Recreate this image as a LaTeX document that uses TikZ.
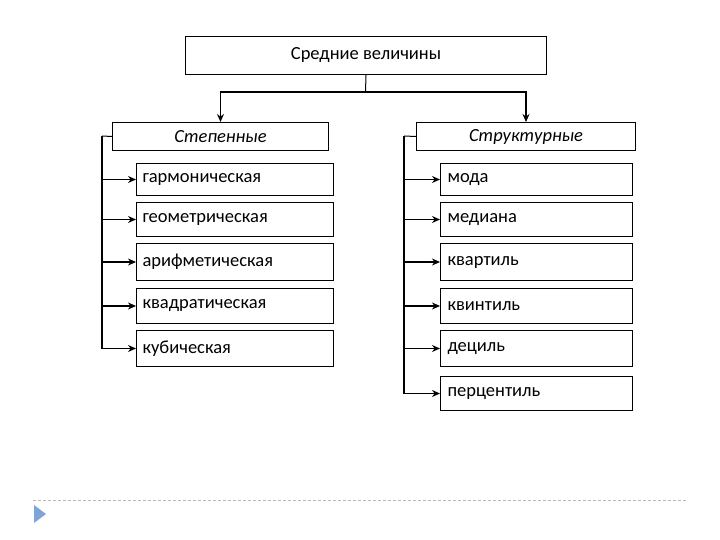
\documentclass[tikz,border=0pt]{standalone}
\usepackage{fontspec}
\setmainfont{Carlito}
\usetikzlibrary{arrows.meta, positioning}
\tikzset{>={Stealth[length=8pt,width=7pt]}}
\definecolor{slideblue}{RGB}{125,165,215}

\begin{document}
\begin{tikzpicture}[x=1pt, y=-1pt,
        box/.style={draw, line width=1pt, anchor=north west, inner xsep=0pt,
                    font=\fontsize{18.5}{22}\selectfont},
        headbox/.style={box, align=center, font=\fontsize{18.5}{22}\selectfont\itshape},
        leftbox/.style={box, text width=185pt, align=left, inner xsep=6pt},
        rightbox/.style={box, text width=178pt, align=left, inner xsep=7pt},
        link/.style={line width=1.7pt}]
        \useasboundingbox (0,0) rectangle (720,540);

        % top
        \node[box, minimum width=361pt, minimum height=38pt, align=center] (top) at (185,36) {Средние величины};
        \node[headbox, minimum width=216pt, minimum height=28pt] (st) at (112,122) {Степенные};
        \node[headbox, minimum width=219pt, minimum height=28pt] (sr) at (416,122) {Структурные};

        \coordinate (hub) at (365.5,92);
        \draw [line width=1pt] (top.south) -- (hub);
        \draw [->, link] (hub) -| (st.north);
        \draw [->, link] (hub) -| (sr.north);

        % left column
        \node[leftbox, minimum height=32pt] (g1) at (136,163) {гармоническая};
        \node[leftbox, minimum height=34pt] (g2) at (136,202) {геометрическая};
        \node[leftbox, minimum height=37pt] (g3) at (136,243) {арифметическая};
        \node[leftbox, minimum height=35pt] (g4) at (136,288) {квадратическая};
        \node[leftbox, minimum height=36pt] (g5) at (136,330) {кубическая};

        \coordinate (ls) at (102,136);
        \draw [line width=1pt] (st.west) -- (ls);
        \draw [link] (ls) -- (ls |- g5.west);
        \draw [->, link] (ls |- g1.west) -- (g1.west);
        \draw [->, link] (ls |- g2.west) -- (g2.west);
        \draw [->, line width=1.1pt] (ls |- g3.west) -- (g3.west);
        \draw [->, link] (ls |- g4.west) -- (g4.west);
        \draw [->, link] (ls |- g5.west) -- (g5.west);

        % right column
        \node[rightbox, minimum height=32pt] (r1) at (440,163) {мода};
        \node[rightbox, minimum height=34pt] (r2) at (440,202) {медиана};
        \node[rightbox, minimum height=37pt] (r3) at (440,243) {квартиль};
        \node[rightbox, minimum height=35pt] (r4) at (440,288) {квинтиль};
        \node[rightbox, minimum height=36pt] (r5) at (440,330) {дециль};
        \node[rightbox, minimum height=34pt] (r6) at (440,376) {перцентиль};

        \coordinate (rs) at (404,136);
        \draw [line width=1pt] (sr.west) -- (rs);
        \draw [link] (rs) -- (rs |- r6.west);
        \draw [->, line width=1.1pt] (rs |- r1.west) -- (r1.west);
        \draw [->, link] (rs |- r2.west) -- (r2.west);
        \draw [->, link] (rs |- r3.west) -- (r3.west);
        \draw [->, link] (rs |- r4.west) -- (r4.west);
        \draw [->, link] (rs |- r5.west) -- (r5.west);
        \draw [->, link] (rs |- r6.west) -- (r6.west);

        % slide footer
        \draw [gray!55, dash pattern=on 3pt off 2pt, line width=0.9pt] (33,500) -- (687,500);
        \fill [slideblue] (34,505) -- (46,514) -- (34,523) -- cycle;
\end{tikzpicture}
\end{document}
